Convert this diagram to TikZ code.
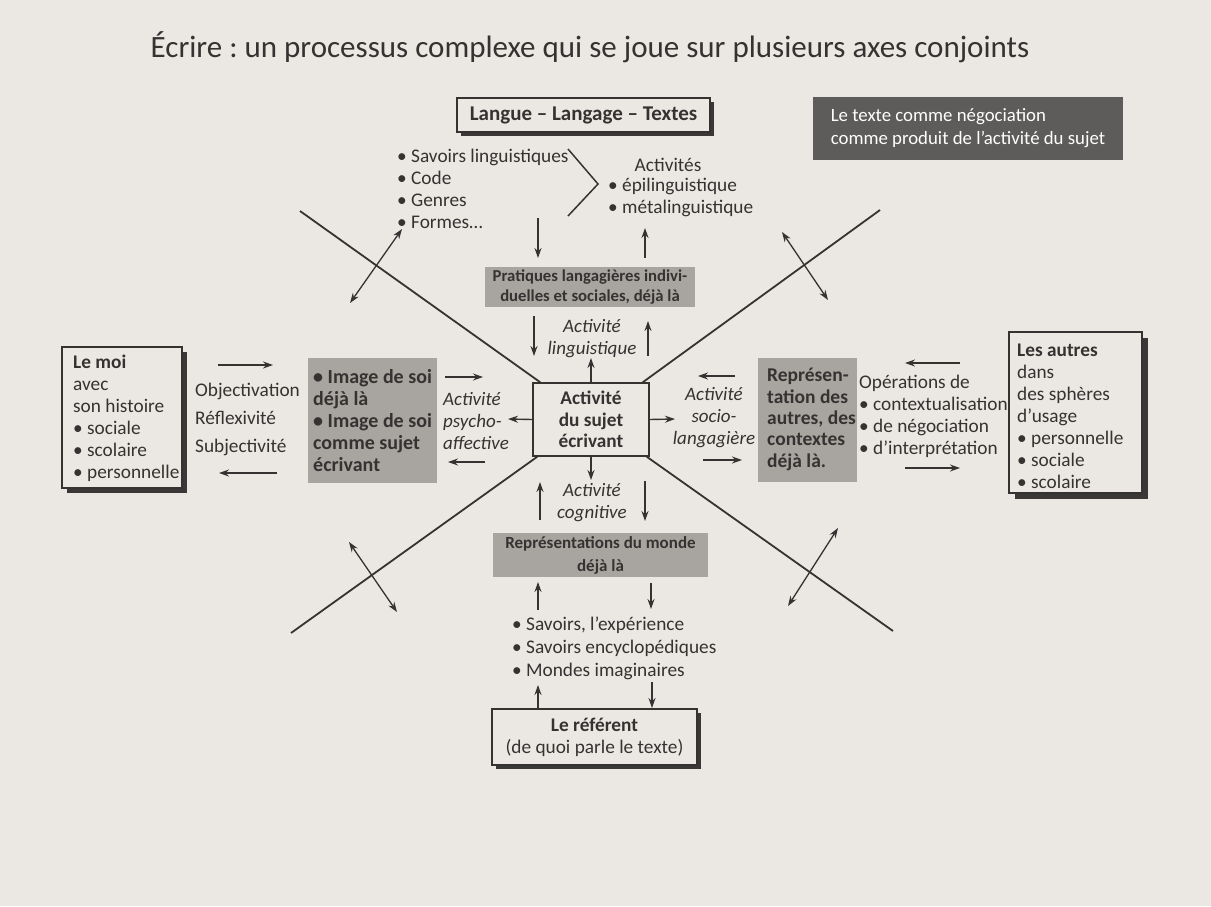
\documentclass[tikz,border=0pt]{standalone}
\usepackage{fontspec}
\setmainfont{Carlito}
\frenchspacing
\usetikzlibrary{arrows.meta,shadows}
\definecolor{bg}{HTML}{EBE7E3}
\definecolor{ink}{HTML}{353332}
\definecolor{boxgray}{HTML}{A8A4A0}
\definecolor{darkbox}{HTML}{5E5C5B}
\definecolor{shade}{HTML}{3A3837}
\newcommand\fBody{\fontsize{19.3}{22}\selectfont}
\newcommand\fTitle{\fontsize{31}{36}\selectfont}
\newcommand\fIt{\fontsize{19}{22}\selectfont\itshape}
\newcommand\fBold{\fontsize{19.3}{21.5}\selectfont\bfseries}
\newcommand\fBoldS{\fontsize{16.7}{20}\selectfont\bfseries}
\begin{document}
\begin{tikzpicture}[x=1pt,y=-1pt,
  txt/.style={inner sep=0pt, text=ink, font=\fBody, align=left},
  ctxt/.style={inner sep=0pt, text=ink, font=\fBody, align=center},
  frame/.style={draw=ink, line width=1.4pt, fill=bg, inner sep=0pt, text=ink},
  shbox/.style={frame, drop shadow={shadow xshift=#1, shadow yshift=-#1, fill=shade, opacity=1}},
  shbox/.default=4pt,
  graybox/.style={fill=boxgray, inner sep=0pt, text=ink},
  arr/.style={draw=ink, line width=1.4pt, -{Stealth[length=10pt,width=7pt]}},
  darr/.style={draw=ink, line width=1.3pt, {Stealth[length=10pt,width=7pt]}-{Stealth[length=10pt,width=7pt]}},
  axisline/.style={draw=ink, line width=1.8pt}]
\fill[bg] (0,0) rectangle (1211,906);
\useasboundingbox (0,0) rectangle (1211,906);

% title
\node[ctxt, font=\fTitle] (title) at (590,47) {Écrire : un processus complexe qui se joue sur plusieurs axes conjoints};

% top
\node[shbox, minimum width=253pt, minimum height=34pt, font=\fontsize{21}{24}\selectfont\bfseries] (langue) at (583.5,115) {Langue – Langage – Textes};
\node[fill=darkbox, text=white, inner sep=0pt, minimum width=310pt, minimum height=63pt, align=left, font=\fontsize{18.8}{23}\selectfont] (nego) at (968,128.5) {Le texte comme négociation\\comme produit de l’activité du sujet};

\node[txt, anchor=west] (savling) at (397,188.5) {• Savoirs linguistiques\\• Code\\• Genres\\• Formes…};
\draw[ink, line width=1.5pt] (568,149) -- (598,184) -- (568,216);
\node[ctxt] (activites) at (668,165) {Activités};
\node[txt, anchor=west] (actlist) at (608,197) {• épilinguistique\\• métalinguistique};

\coordinate (p1a) at (538,218); \coordinate (p1b) at (538,258);
\coordinate (p2a) at (645,258); \coordinate (p2b) at (645,228);
\draw[arr] (p1a) -- (p1b);
\draw[arr] (p2a) -- (p2b);

\node[graybox, minimum width=210pt, minimum height=40pt, align=center, font=\fBoldS] (prat) at (590,287) {Pratiques langagières indivi-\\duelles et sociales, déjà là};

\coordinate (p3a) at (534,316); \coordinate (p3b) at (534,356);
\coordinate (p4a) at (648,356); \coordinate (p4b) at (648,321);
\draw[arr] (p3a) -- (p3b);
\draw[arr] (p4a) -- (p4b);
\node[ctxt, font=\fIt] (actling) at (592,339) {Activité\\linguistique};

% centre
\node[frame, minimum width=116pt, minimum height=73pt, align=center, font=\fBold] (sujet) at (591,419.5) {Activité\\du sujet\\écrivant};
\coordinate (cUp) at (591,358);
\coordinate (cLeft) at (508,419);
\coordinate (cRight) at (675,419);
\coordinate (cDown) at (591,480);
\draw[arr] (sujet.north) -- (cUp);
\draw[arr] (sujet.west) -- (cLeft);
\draw[arr] (sujet.east) -- (cRight);
\draw[arr] (sujet.south) -- (cDown);

% axes
\coordinate (ulE) at (300,211);
\coordinate (urE) at (880,210);
\coordinate (llE) at (291,633);
\coordinate (lrE) at (893,631);
\draw[axisline] ([xshift=8pt]sujet.north west) -- (ulE);
\draw[axisline] ([xshift=-7pt]sujet.north east) -- (urE);
\draw[axisline] ([xshift=5pt]sujet.south west) -- (llE);
\draw[axisline] ([xshift=-3pt]sujet.south east) -- (lrE);

% double arrows across the axes
\coordinate (d1a) at (350,303); \coordinate (d1b) at (402,229);
\coordinate (d2a) at (782,232); \coordinate (d2b) at (828,300);
\coordinate (d3a) at (349,542); \coordinate (d3b) at (397,612);
\coordinate (d4a) at (838,528); \coordinate (d4b) at (788,606);
\draw[darr] (d1a) -- (d1b);
\draw[darr] (d2a) -- (d2b);
\draw[darr] (d3a) -- (d3b);
\draw[darr] (d4a) -- (d4b);

% left
\node[shbox=5pt, minimum width=120pt, minimum height=141pt] (moibox) at (122,417.5) {};
\node[txt, anchor=west] (moi) at (73,418) {\textbf{Le moi}\\avec\\son histoire\\• sociale\\• scolaire\\• personnelle};
\node[txt, anchor=west, font=\fontsize{19.3}{28}\selectfont] (objet) at (195,419.5) {Objectivation\\Réflexivité\\Subjectivité};
\coordinate (o1a) at (218,365); \coordinate (o1b) at (273,365);
\coordinate (o2a) at (277,473); \coordinate (o2b) at (219,473);
\draw[arr] (o1a) -- (o1b);
\draw[arr] (o2a) -- (o2b);

\node[graybox, minimum width=129pt, minimum height=125pt] (imgbox) at (372.5,420.5) {};
\node[txt, anchor=west, font=\fontsize{20}{22}\selectfont\bfseries] (img) at (313,421) {• Image de soi\\déjà là\\• Image de soi\\comme sujet\\écrivant};
\coordinate (i1a) at (445,377); \coordinate (i1b) at (483,377);
\coordinate (i2a) at (485,462); \coordinate (i2b) at (448,462);
\draw[arr] (i1a) -- (i1b);
\draw[arr] (i2a) -- (i2b);
\node[txt, anchor=west, font=\fIt] (psy) at (443,421) {Activité\\psycho-\\affective};

% right
\node[ctxt, font=\fIt] (socio) at (714,418) {Activité\\socio-\\langagière};
\coordinate (s1a) at (735,376); \coordinate (s1b) at (698,376);
\coordinate (s2a) at (703,460); \coordinate (s2b) at (742,460);
\draw[arr] (s1a) -- (s1b);
\draw[arr] (s2a) -- (s2b);

\node[graybox, minimum width=99pt, minimum height=124pt] (repbox) at (807.5,420) {};
\node[txt, anchor=west, font=\fontsize{19.5}{21.3}\selectfont\bfseries] (rep) at (767,419.5) {Représen-\\tation des\\autres, des\\contextes\\déjà là.};
\node[txt, anchor=west] (oper) at (859,416) {Opérations de\\• contextualisation\\• de négociation\\• d’interprétation};
\coordinate (r1a) at (960,363); \coordinate (r1b) at (905,363);
\coordinate (r2a) at (905,468); \coordinate (r2b) at (960,468);
\draw[arr] (r1a) -- (r1b);
\draw[arr] (r2a) -- (r2b);

\node[shbox=6pt, minimum width=133pt, minimum height=161pt] (autbox) at (1075.5,412.5) {};
\node[txt, anchor=west] (aut) at (1017,416) {\textbf{Les autres}\\dans\\des sphères\\d’usage\\• personnelle\\• sociale\\• scolaire};

% bottom
\node[ctxt, font=\fIt] (cogn) at (592,503) {Activité\\cognitive};
\coordinate (b1a) at (540,520); \coordinate (b1b) at (540,482);
\coordinate (b2a) at (645,481); \coordinate (b2b) at (645,521);
\draw[arr] (b1a) -- (b1b);
\draw[arr] (b2a) -- (b2b);

\node[graybox, minimum width=215pt, minimum height=44pt, align=center, font=\fontsize{17}{23}\selectfont\bfseries] (monde) at (600.5,555) {Représentations du monde\\déjà là};
\coordinate (m1a) at (538,610); \coordinate (m1b) at (538,582);
\coordinate (m2a) at (651,583); \coordinate (m2b) at (651,609);
\draw[arr] (m1a) -- (m1b);
\draw[arr] (m2a) -- (m2b);

\node[txt, anchor=west, font=\fontsize{19.3}{23}\selectfont] (savoirs) at (512,648) {• Savoirs, l’expérience\\• Savoirs encyclopédiques\\• Mondes imaginaires};
\coordinate (e1a) at (538,709); \coordinate (e1b) at (538,685);
\coordinate (e2a) at (652,682); \coordinate (e2b) at (652,708);
\draw[arr] (e1a) -- (e1b);
\draw[arr] (e2a) -- (e2b);

\node[shbox, minimum width=205pt, minimum height=56pt, align=center, font=\fBody] (referent) at (594.5,737) {\textbf{Le référent}\\(de quoi parle le texte)};
\end{tikzpicture}
\end{document}
